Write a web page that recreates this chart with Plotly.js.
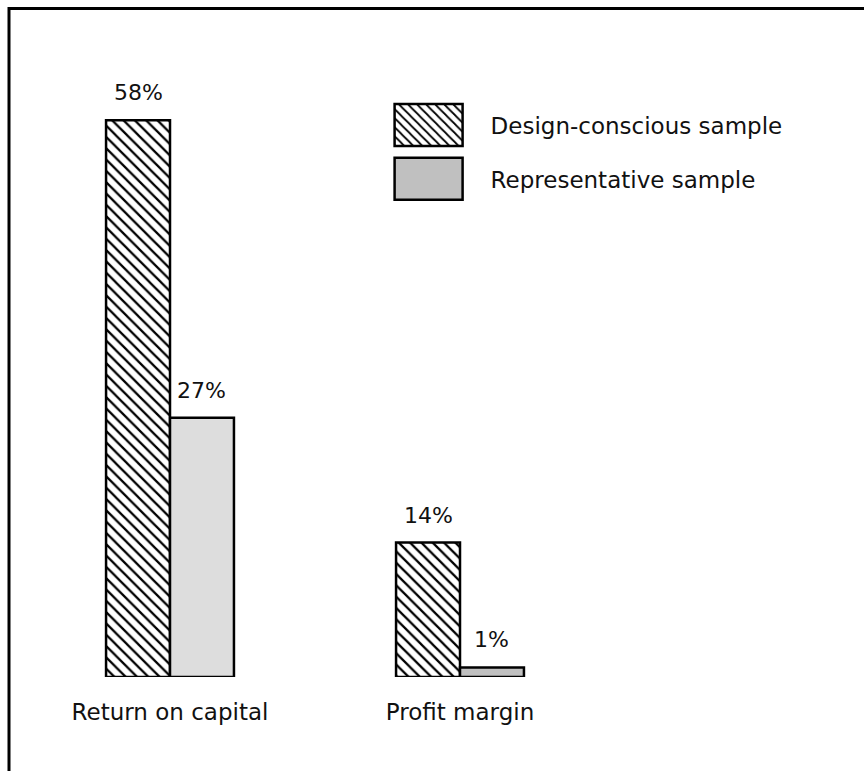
<!DOCTYPE html>
<html>
<head>
<meta charset="utf-8">
<script src="https://cdn.plot.ly/plotly-3.0.1.min.js"></script>
<style>html,body{margin:0;padding:0;background:#fff;}</style>
</head>
<body>
<div id="chart" style="width:864px;height:771px;"></div>
<script>
// ---- data ----
const categories = ['Return on capital', 'Profit margin'];
const seriesNames = ['Design-conscious sample', 'Representative sample'];
const designValues = [58, 14];
const representativeValues = [27, 1];
const representativeColors = ['#dddddd', '#c0c0c0'];

// ---- layout constants ----
const W = 864, H = 771;
const M = {l: 25, r: 259, t: 101, b: 94, autoexpand: false};
const plotW = W - M.l - M.r, plotH = H - M.t - M.b;
const yMax = 60;
const bargap = 0.559;
const FONT = 'DejaVu Sans, Verdana, sans-serif';

const pxX = px => (px - M.l) / plotW;
const pxY = py => (H - M.b - py) / plotH;

const traces = [
  {
    type: 'bar', name: seriesNames[0], x: categories, y: designValues,
    legendgroup: 'a',
    marker: {
      color: 'white',
      line: {color: 'black', width: 2.5},
      pattern: {shape: '\\', fgcolor: 'black', bgcolor: 'white', size: 8, solidity: 0.28}
    },
    hoverinfo: 'skip'
  },
  {
    type: 'bar', name: seriesNames[1], x: categories, y: representativeValues,
    legendgroup: 'b',
    marker: {color: representativeColors, line: {color: 'black', width: 2.5}},
    hoverinfo: 'skip'
  }
];

const barW = (1 - bargap) / 2;
const annotations = [];
[designValues, representativeValues].forEach((vals, s) => {
  vals.forEach((v, i) => {
    annotations.push({
      x: i + (s === 0 ? -barW / 2 : barW / 2), y: v, xref: 'x', yref: 'y',
      text: v + '%', showarrow: false, yanchor: 'bottom', yshift: 13,
      font: {family: FONT, size: 22, color: '#111'}
    });
  });
});

const layout = {
  width: W, height: H,
  margin: M,
  paper_bgcolor: 'white', plot_bgcolor: 'white',
  barmode: 'group', bargap: bargap, bargroupgap: 0,
  showlegend: true,
  legend: {
    x: pxX(366.6), y: pxY(103.5), xanchor: 'left', yanchor: 'top',
    font: {family: FONT, size: 23, color: '#111'},
    itemwidth: 114, tracegroupgap: 21, traceorder: 'grouped',
    bgcolor: 'rgba(0,0,0,0)', borderwidth: 0, itemclick: false, itemdoubleclick: false
  },
  xaxis: {
    type: 'category', range: [-0.5, 1.5], showgrid: false, zeroline: false, showline: false,
    ticks: '', automargin: false, ticklabelstandoff: 19,
    tickfont: {family: FONT, size: 23, color: '#111'}, fixedrange: true
  },
  yaxis: {range: [0, yMax], visible: false, fixedrange: true, automargin: false},
  annotations: annotations,
  shapes: [
    {type: 'line', xref: 'paper', yref: 'paper', x0: pxX(9), x1: pxX(864), y0: pxY(8.5), y1: pxY(8.5), line: {color: 'black', width: 3}},
    {type: 'line', xref: 'paper', yref: 'paper', x0: pxX(9), x1: pxX(9), y0: pxY(7), y1: pxY(771), line: {color: 'black', width: 3}}
  ]
};

Plotly.newPlot('chart', traces, layout, {displayModeBar: false, staticPlot: true}).then(gd => {
  const sb = gd.querySelector('.legend .scrollbox');
  if (sb) sb.removeAttribute('clip-path');
  const leg = gd.querySelector('.legend');
  if (leg) leg.removeAttribute('clip-path');
  const pts = gd.querySelectorAll('.legend .legendpoints path');
  pts.forEach((p, k) => {
    p.setAttribute('d', 'M34,21H-34V-21H34Z');
    if (k === 1) p.style.fill = '#c0c0c0';
  });
});
</script>
</body>
</html>
